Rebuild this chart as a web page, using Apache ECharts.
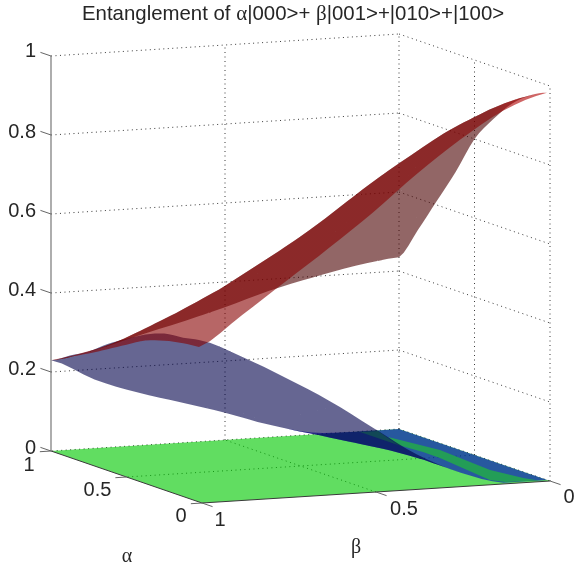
<!DOCTYPE html>
<html>
<head>
<meta charset="utf-8">
<style>html,body{margin:0;padding:0;background:#fff}#c{width:576px;height:570px}</style>
<script src="https://cdn.jsdelivr.net/npm/echarts@6/dist/echarts.min.js"></script>
</head>
<body>
<div id="c"></div>
<script>
// ---- data ----
const alphaGrid = [0.02, 0.125, 0.25, 0.375, 0.5, 0.625, 0.75, 0.875, 1];
const betaGrid  = [0, 0.125, 0.25, 0.375, 0.5, 0.625, 0.75, 0.875, 1];
// rows: alpha index, columns: beta index
const redA0 = [0.980, 0.942, 0.875, 0.795, 0.705, 0.623, 0.545, 0.467, 0.392];
const redA1 = [0.960, 0.925, 0.852, 0.772, 0.686, 0.609, 0.534, 0.459, 0.388];
const redA2 = [0.923, 0.888, 0.825, 0.755, 0.662, 0.587, 0.516, 0.445, 0.378];
const redA3 = [0.867, 0.842, 0.780, 0.710, 0.630, 0.556, 0.491, 0.425, 0.362];
const redA4 = [0.800, 0.765, 0.710, 0.648, 0.580, 0.515, 0.452, 0.391, 0.335];
const redA5 = [0.700, 0.671, 0.624, 0.572, 0.525, 0.465, 0.404, 0.352, 0.307];
const redA6 = [0.610, 0.585, 0.547, 0.503, 0.450, 0.418, 0.368, 0.317, 0.280];
const redA7 = [0.520, 0.501, 0.470, 0.435, 0.392, 0.352, 0.325, 0.283, 0.255];
const redA8 = [0.435, 0.420, 0.397, 0.370, 0.336, 0.306, 0.278, 0.250, 0.230];
const redSurface = [redA0, redA1, redA2, redA3, redA4, redA5, redA6, redA7, redA8];

const blueA0 = [0, 0, 0.033, 0.086, 0.160, 0.235, 0.300, 0.360, 0.410];
const blueA1 = [0, 0, 0.033, 0.085, 0.156, 0.228, 0.290, 0.350, 0.402];
const blueA2 = [0, 0, 0.034, 0.084, 0.153, 0.221, 0.282, 0.341, 0.396];
const blueA3 = [0, 0, 0.031, 0.079, 0.143, 0.207, 0.264, 0.320, 0.377];
const blueA4 = [0, 0, 0.027, 0.070, 0.130, 0.187, 0.240, 0.293, 0.350];
const blueA5 = [0, 0, 0.021, 0.061, 0.114, 0.166, 0.213, 0.264, 0.320];
const blueA6 = [0, 0, 0.015, 0.049, 0.097, 0.142, 0.183, 0.229, 0.285];
const blueA7 = [0, 0, 0.010, 0.041, 0.083, 0.122, 0.159, 0.202, 0.258];
const blueA8 = [0, 0, 0.005, 0.032, 0.069, 0.102, 0.134, 0.174, 0.230];
const blueSurface = [blueA0, blueA1, blueA2, blueA3, blueA4, blueA5, blueA6, blueA7, blueA8];

// the flat surfaces fight on the floor: strips where the green shows over the blue
const stripAlpha = [0.881, 0.617, 0.24, 0.076, 0.02, 0.03, 0.078, 0.487, 0.602, 0.741];
const stripBeta  = [0.083, 0.0485, 0.068, 0.044, 0.024, 0.116, 0.139, 0.105, 0.104, 0.115];
const wedgeAlpha = [0.991, 0.989, 0.741];
const wedgeBeta  = [0.116, 0.065, 0.115];

const alphaTicks = [0, 0.5, 1];
const betaTicks  = [0, 0.5, 1];
const zTicks     = [0, 0.2, 0.4, 0.6, 0.8, 1];

// ---- oblique view of the unit box ----
function project(a, b, z) {
  return [550 - 348 * b - 151 * a, 481 + 22 * b - 52 * a - 395 * z];
}

// smooth the surface between its samples when drawing it (Catmull-Rom patch)
const SUB = 4;
function cr(p0, p1, p2, p3, t) {
  return 0.5 * (2 * p1 + (p2 - p0) * t + (2 * p0 - 5 * p1 + 4 * p2 - p3) * t * t + (3 * p1 - p0 - 3 * p2 + p3) * t * t * t);
}
function smoothLine(v) {
  const out = [];
  for (let i = 0; i < v.length - 1; i++) {
    const a = v[Math.max(i - 1, 0)], b = v[i], c = v[i + 1], d = v[Math.min(i + 2, v.length - 1)];
    for (let s = 0; s < SUB; s++) out.push(cr(a, b, c, d, s / SUB));
  }
  out.push(v[v.length - 1]);
  return out;
}
function linearLine(v) {
  const out = [];
  for (let i = 0; i < v.length - 1; i++) for (let s = 0; s < SUB; s++) out.push(v[i] + (v[i + 1] - v[i]) * s / SUB);
  out.push(v[v.length - 1]);
  return out;
}
function trianglesOf(surface, wantFront) {
  const A = linearLine(alphaGrid), B = linearLine(betaGrid);
  const rows = surface.map(smoothLine);
  const columns = rows[0].map(function (_, j) { return smoothLine(rows.map(function (r) { return r[j]; })); });
  const Z = function (i, j) { return Math.max(0, columns[j][i]); };
  const out = [];
  for (let i = 0; i < A.length - 1; i++) {
    for (let j = 0; j < B.length - 1; j++) {
      const P = (k, l) => project(A[k], B[l], Z(k, l));
      const p00 = P(i, j), p10 = P(i + 1, j), p01 = P(i, j + 1), p11 = P(i + 1, j + 1);
      [[p00, p10, p01], [p11, p01, p10]].forEach(function (t) {
        const c = (t[1][0] - t[0][0]) * (t[2][1] - t[0][1]) - (t[1][1] - t[0][1]) * (t[2][0] - t[0][0]);
        if (Math.abs(c) < 1e-6) return;
        if ((c < 0) === wantFront) out.push(t);
      });
    }
  }
  return out;
}

function pathLayer(polys, fill, name) {
  return {
    type: 'custom', name: name, coordinateSystem: 'cartesian2d', silent: true, clip: false,
    data: [[0, 0]], animation: false,
    renderItem: function (params, api) {
      let d = '', x0 = 1e9, y0 = 1e9, x1 = -1e9, y1 = -1e9;
      polys.forEach(function (t) {
        t.forEach(function (p, n) {
          const q = api.coord(p);
          x0 = Math.min(x0, q[0]); y0 = Math.min(y0, q[1]);
          x1 = Math.max(x1, q[0]); y1 = Math.max(y1, q[1]);
          d += (n ? 'L' : 'M') + q[0].toFixed(2) + ' ' + q[1].toFixed(2) + ' ';
        });
        d += 'Z ';
      });
      return {
        type: 'path',
        shape: { pathData: d, layout: 'cover', x: x0, y: y0, width: x1 - x0, height: y1 - y0 },
        style: { fill: fill, stroke: null }
      };
    }
  };
}

function lineLayer(segments, stroke, width, dash, name) {
  return {
    type: 'custom', name: name, coordinateSystem: 'cartesian2d', silent: true, clip: false,
    data: segments.map(function (s, i) { return [i, 0]; }), animation: false,
    renderItem: function (params, api) {
      const s = segments[params.dataIndex];
      const a = api.coord(s[0]), b = api.coord(s[1]);
      return {
        type: 'line',
        shape: { x1: a[0], y1: a[1], x2: b[0], y2: b[1] },
        style: { stroke: stroke, lineWidth: width, lineDash: dash || null, fill: null }
      };
    }
  };
}

function textLayer(items, font, name) {
  return {
    type: 'custom', name: name, coordinateSystem: 'cartesian2d', silent: true, clip: false,
    data: items.map(function (s, i) { return [i, 0]; }), animation: false,
    renderItem: function (params, api) {
      const it = items[params.dataIndex];
      const q = api.coord(it.at);
      return {
        type: 'text',
        style: { text: it.text, x: q[0] + it.dx, y: q[1] + it.dy, align: it.align || 'center',
                 verticalAlign: 'middle', font: font, fill: '#262626' }
      };
    }
  };
}

// grid segments
const dotted = [];
zTicks.forEach(function (z) {
  if (z > 0) {
    dotted.push([project(1, 1, z), project(1, 0, z)]);
    dotted.push([project(1, 0, z), project(0, 0, z)]);
  }
});
dotted.push([project(1, 0, 0), project(1, 1, 0)]);
dotted.push([project(1, 0, 0), project(0, 0, 0)]);
betaTicks.forEach(function (b) { if (b < 1) dotted.push([project(1, b, 0), project(1, b, 1)]); });
alphaTicks.forEach(function (a) { if (a < 1) dotted.push([project(a, 0, 0), project(a, 0, 1)]); });
dotted.push([project(0.5, 0, 0), project(0.5, 1, 0)]);
dotted.push([project(0, 0.5, 0), project(1, 0.5, 0)]);

const zAxisLine = [[project(1, 1, 0), project(1, 1, 1)]];
const floorEdges = [[project(1, 1, 0), project(0, 1, 0)], [project(0, 1, 0), project(0, 0, 0)]];
const ticks = [];
zTicks.forEach(function (z) { ticks.push([project(1, 1, z), project(1.07, 1, z)]); });
alphaTicks.forEach(function (a) { ticks.push([project(a, 1, 0), project(a, 1.032, 0)]); });
betaTicks.forEach(function (b) { ticks.push([project(0, b, 0), project(-0.07, b, 0)]); });

const zLabels = zTicks.map(function (z) {
  const p = project(1, 1, z);
  return { text: String(z), at: p, dx: 36 - p[0], dy: z === 1 ? -5 : -3, align: 'right' };
});
const alphaLabels = alphaTicks.map(function (a) {
  const p = project(a, 1, 0);
  return { text: String(a), at: p, dx: [-21, -29, -22][alphaTicks.indexOf(a)], dy: [13, 13, 14][alphaTicks.indexOf(a)] };
});
const betaLabels = betaTicks.map(function (b) {
  const p = project(0, b, 0);
  return { text: String(b), at: p, dx: [19, 28, 18][betaTicks.indexOf(b)], dy: [16, 17, 17][betaTicks.indexOf(b)] };
});

const floorPoly = [[project(1, 1, 0), project(0, 1, 0), project(0, 0, 0), project(1, 0, 0)]];
const stripPoly = [stripAlpha.map(function (a, i) { return project(a, stripBeta[i], 0); })];
const wedgePoly = [wedgeAlpha.map(function (a, i) { return project(a, wedgeBeta[i], 0); })];

const redFrontFill = {
  type: 'linear', global: true, x: 490, y: 0, x2: 515, y2: 0,
  colorStops: [{ offset: 0, color: 'rgba(135,0,0,0.6)' }, { offset: 1, color: 'rgba(175,0,0,0.6)' }]
};

const chart = echarts.init(document.getElementById('c'), null, { renderer: 'canvas', width: 576, height: 570 });
chart.setOption({
  animation: false,
  backgroundColor: '#ffffff',
  title: {
    text: 'Entanglement of {g|\u03b1}|000>+ {g|\u03b2}|001>+|010>+|100>',
    left: 82, top: 4, padding: 0,
    textStyle: {
      fontFamily: 'Liberation Sans', fontSize: 20.4, fontWeight: 'normal', color: '#262626',
      rich: { g: { fontFamily: 'Liberation Serif', fontSize: 21, color: '#262626' } }
    }
  },
  grid: { left: 0, right: 0, top: 0, bottom: 0 },
  xAxis: { type: 'value', min: 0, max: 576, show: false },
  yAxis: { type: 'value', min: 0, max: 570, inverse: true, show: false },
  series: [
    lineLayer(dotted, '#3a3a3a', 1, [1, 3.5], 'grid'),
    pathLayer(floorPoly, 'rgba(0,200,0,0.62)', 'floor'),
    pathLayer(trianglesOf(blueSurface, true), 'rgba(0,0,200,0.6)', 'blue top'),
    pathLayer(stripPoly, 'rgb(35,157,87)', 'green strip'),
    pathLayer(trianglesOf(blueSurface, false), 'rgba(0,0,73,0.6)', 'blue under'),
    pathLayer(wedgePoly, 'rgb(17,72,86)', 'dark wedge'),
    pathLayer(trianglesOf(redSurface, false), 'rgba(73,0,0,0.6)', 'red under'),
    pathLayer(trianglesOf(redSurface, true), redFrontFill, 'red top'),
    lineLayer(zAxisLine, '#777777', 1.2, null, 'z axis'),
    lineLayer(floorEdges, '#3a3a3a', 1, null, 'floor edges'),
    lineLayer(ticks, '#666666', 1, null, 'ticks'),
    textLayer(zLabels.concat(alphaLabels, betaLabels), '20px "Liberation Sans"', 'tick labels'),
    textLayer([
      { text: '\u03b1', at: [127, 557], dx: 0, dy: 0 },
      { text: '\u03b2', at: [356, 548], dx: 0, dy: 0 }
    ], '20px "Liberation Serif"', 'axis names')
  ]
});
</script>
</body>
</html>
